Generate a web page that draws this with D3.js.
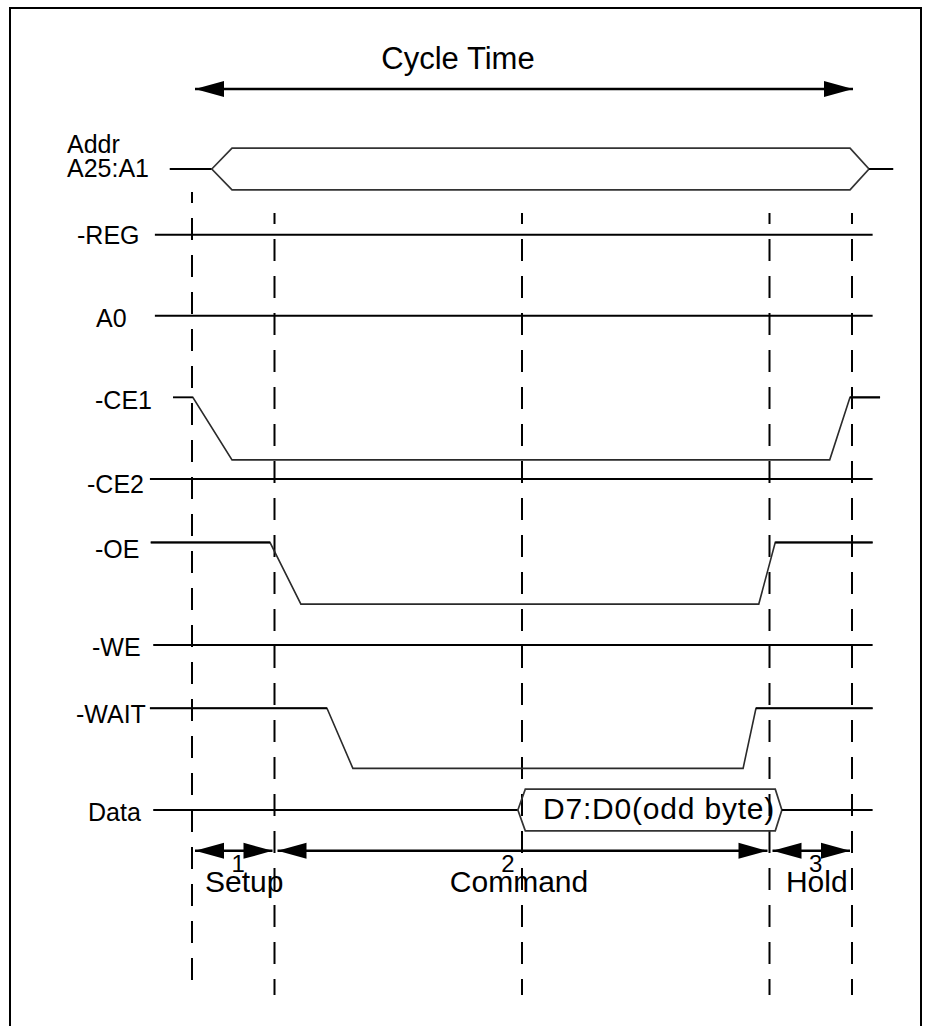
<!DOCTYPE html>
<html><head><meta charset="utf-8">
<script src="https://cdn.jsdelivr.net/npm/d3@7"></script>
<style>
body{margin:0;background:#fff}
svg{display:block}
text{font-family:"Liberation Sans",Arial,Helvetica,sans-serif;fill:#000}
</style>
</head><body>
<svg id="c" width="926" height="1026"></svg>
<script>
// ---------------- data (time in cycle units, level in row units) ----------------
const refTimes = [0, 1, 4, 7, 8];                 // dashed reference lines
const phaseNames = ["Setup", "Command", "Hold"];
const phaseNums = ["1", "2", "3"];
const phaseStart = [0, 1, 7];
const phaseEnd = [1, 7, 8];
const cycleLabel = "Cycle Time";
const cycleRange = [0, 8];

const addrLabel = ["Addr", "A25:A1"];
const addrRow = 0;
const addrTimes = [-0.27, 0.24, 0.485, 7.976, 8.206, 8.5]; // idle start, point, corner, corner, point, idle end

const staticNames = ["-REG", "A0", "-CE2", "-WE"];
const staticRows = [0.82, 1.83, 3.87, 5.94];
const staticStart = [-0.45, -0.45, -0.51, -0.47];
const staticEnd = [8.25, 8.25, 8.25, 8.25];

const waveNames = ["-CE1", "-OE", "-WAIT"];
const waveTimes = [
  [-0.23, 0.01, 0.485, 7.73, 7.976, 8.34],
  [-0.5, 0.945, 1.32, 6.87, 7.07, 8.25],
  [-0.51, 1.636, 1.95, 6.68, 6.836, 8.25]
];
const waveHigh = [2.85, 4.66, 6.73];
const waveLow = [3.63, 5.43, 7.48];

const dataLabel = "Data";
const dataRow = 8;
const dataTimes = [-0.47, 3.95, 4.04, 7.07, 7.15, 8.25];
const dataText = "D7:D0(odd byte)";

const busHalf = 0.26;        // bus half height in row units
const cycleArrowRow = -1;
const phaseArrowRow = 8.51;

// ---------------- layout ----------------
const svg = d3.select("#c");
const x = d3.scaleLinear().domain([0, 8]).range([192, 852]);
const y = d3.scaleLinear().domain([0, 8]).range([169, 810]);

const labelLayout = {
  "Addr": [67, 153], "A25:A1": [67, 177],
  "-REG": [77, 244], "A0": [96, 327], "-CE1": [95, 409], "-CE2": [87, 493],
  "-OE": [95, 558], "-WE": [92, 656], "-WAIT": [76, 723], "Data": [88, 821]
};
const phaseLabelDx = [11, -3, 6];
const phaseNumDx = [5, -14, 5];

// border
svg.append("rect").attr("x", 10).attr("y", 8).attr("width", 911).attr("height", 1100)
  .attr("fill", "none").attr("stroke", "#000").attr("stroke-width", 2);

// dashed reference lines
svg.selectAll("line.ref").data(refTimes).enter().append("line")
  .attr("class", "ref")
  .attr("x1", d => x(d)).attr("x2", d => x(d))
  .attr("y1", (d, i) => i === 0 ? 192 : 213).attr("y2", 995)
  .attr("stroke", "#000").attr("stroke-width", 2)
  .attr("stroke-dasharray", "22 15").attr("stroke-dashoffset", 11);

// arrows helper
function arrow(x1, x2, yy, w) {
  const L = 29, H = 8;
  svg.append("line").attr("x1", x1).attr("x2", x2).attr("y1", yy).attr("y2", yy)
    .attr("stroke", "#000").attr("stroke-width", w);
  svg.append("path").attr("d", `M${x1},${yy} L${x1 + L},${yy - H} L${x1 + L},${yy + H} Z`).attr("fill", "#000");
  svg.append("path").attr("d", `M${x2},${yy} L${x2 - L},${yy - H} L${x2 - L},${yy + H} Z`).attr("fill", "#000");
}

// cycle time
arrow(x(cycleRange[0]) + 3, x(cycleRange[1]) + 1, y(cycleArrowRow), 2.5);
svg.append("text").attr("x", 458).attr("y", 69).attr("text-anchor", "middle")
  .attr("font-size", 31).text(cycleLabel);

// labels
function label(t) {
  const p = labelLayout[t];
  svg.append("text").attr("x", p[0]).attr("y", p[1]).attr("font-size", 25).text(t);
}
addrLabel.forEach(label);
staticNames.forEach(label);
waveNames.forEach(label);
label(dataLabel);

// static lines
staticNames.forEach((n, i) => {
  svg.append("line")
    .attr("x1", x(staticStart[i])).attr("x2", x(staticEnd[i]))
    .attr("y1", y(staticRows[i])).attr("y2", y(staticRows[i]))
    .attr("stroke", "#000").attr("stroke-width", 2);
});

// waveforms
const lineGen = d3.line().x(d => x(d[0])).y(d => y(d[1]));
waveNames.forEach((n, i) => {
  const t = waveTimes[i], hi = waveHigh[i], lo = waveLow[i];
  const pts = [[t[0], hi], [t[1], hi], [t[2], lo], [t[3], lo], [t[4], hi], [t[5], hi]];
  svg.append("path").attr("d", lineGen(pts)).attr("fill", "none")
    .attr("stroke", "#2a2a2a").attr("stroke-width", 1.6);
  // highs drawn heavier
  svg.append("path").attr("d", lineGen([[t[0], hi], [t[1], hi]])).attr("stroke", "#000").attr("stroke-width", i === 0 ? 1.4 : 2);
  svg.append("path").attr("d", lineGen([[t[4], hi], [t[5], hi]])).attr("stroke", "#000").attr("stroke-width", 2);
});

// bus helper
function bus(row, t) {
  const c = y(row), top = y(row - busHalf), bot = y(row + busHalf);
  svg.append("line").attr("x1", x(t[0])).attr("x2", x(t[1])).attr("y1", c).attr("y2", c)
    .attr("stroke", "#000").attr("stroke-width", 1.8);
  svg.append("path")
    .attr("d", `M${x(t[1])},${c} L${x(t[2])},${top} L${x(t[3])},${top} L${x(t[4])},${c} L${x(t[3])},${bot} L${x(t[2])},${bot} Z`)
    .attr("fill", "none").attr("stroke", "#333").attr("stroke-width", 1.7);
  svg.append("line").attr("x1", x(t[4])).attr("x2", x(t[5])).attr("y1", c).attr("y2", c)
    .attr("stroke", "#000").attr("stroke-width", 2);
}
bus(addrRow, addrTimes);
bus(dataRow, dataTimes);
svg.append("text").attr("x", 543).attr("y", 819).attr("font-size", 30)
  .attr("letter-spacing", 0.8).text(dataText);

// phases
phaseNames.forEach((n, i) => {
  const a = x(phaseStart[i]), b = x(phaseEnd[i]);
  arrow(a + 3, b - 2, y(phaseArrowRow), 2.5);
  const mid = (a + b) / 2;
  svg.append("text").attr("x", mid + phaseNumDx[i]).attr("y", 872).attr("text-anchor", "middle")
    .attr("font-size", 24).text(phaseNums[i]);
  svg.append("text").attr("x", mid + phaseLabelDx[i]).attr("y", 892).attr("text-anchor", "middle")
    .attr("font-size", 30).text(n);
});
</script>
</body></html>
